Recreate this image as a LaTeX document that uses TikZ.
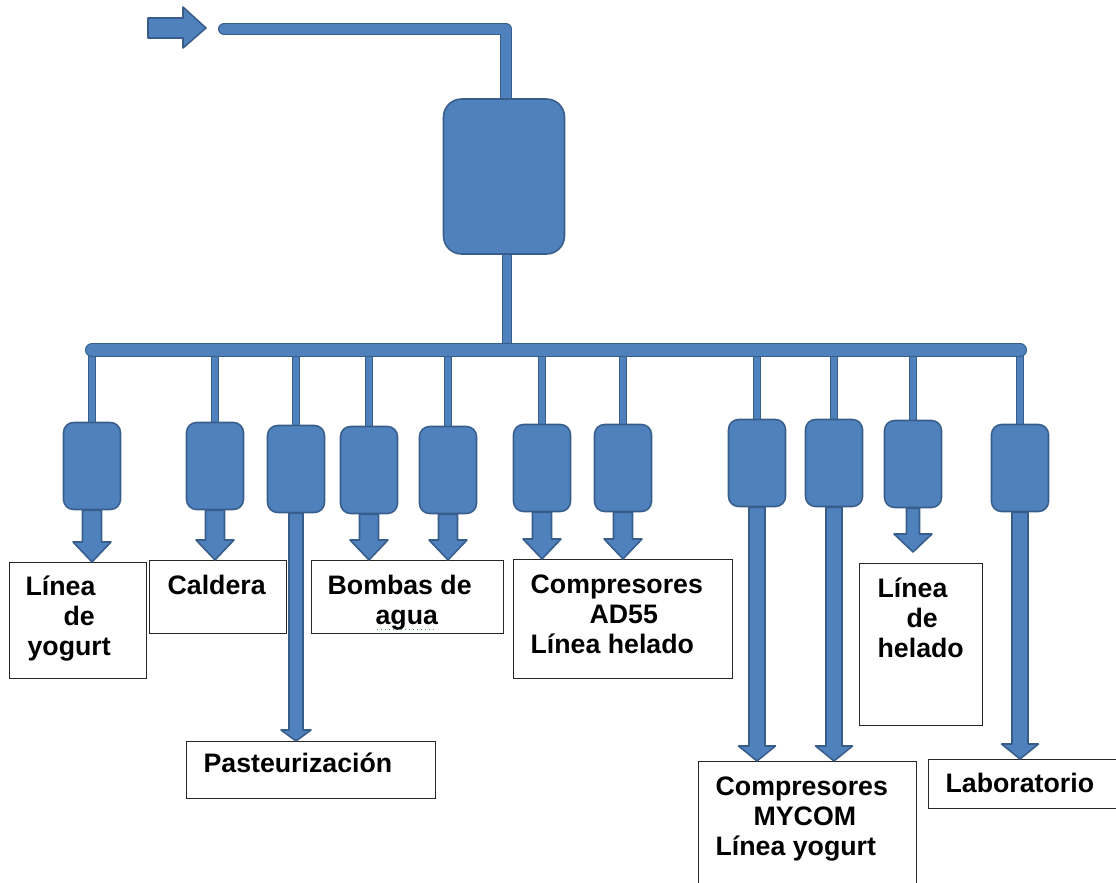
\documentclass[tikz,border=0pt]{standalone}
\usepackage{fontspec}
\setmainfont{Liberation Sans}
\usetikzlibrary{calc,backgrounds}

\definecolor{azul}{RGB}{79,129,189}
\definecolor{borde}{RGB}{56,93,138}
\definecolor{verde}{RGB}{60,160,60}

% un pixel de la figura original
\newlength{\pxl}
\setlength{\pxl}{0.025cm}

% texto pegado arriba dentro del cuadro: ancho, alto, texto
\newcommand{\rotulo}[3]{\parbox[t][#2\pxl][t]{#1\pxl}{#3}}

% subrayado punteado verde (corrector)
\newcommand{\punteado}[1]{\rlap{\raisebox{-6\pxl}{\color{verde}\leaders\hbox to 4\pxl{\hss\rule{1.6\pxl}{1.6\pxl}\hss}\hskip #1\pxl}}}

% flecha de bloque: origen, destino, ancho cuerpo, ancho punta, largo punta
\newcommand{\flecha}[5]{%
  \filldraw[bloque] let \p1=(#1), \p2=(#2) in
    (\x1-#3*\pxl/2,\y1) -- (\x1-#3*\pxl/2,\y2+#5*\pxl) -- (\x1-#4*\pxl/2,\y2+#5*\pxl)
    -- (\x1,\y2) -- (\x1+#4*\pxl/2,\y2+#5*\pxl) -- (\x1+#3*\pxl/2,\y2+#5*\pxl)
    -- (\x1+#3*\pxl/2,\y1) -- cycle;}

\begin{document}
\begin{tikzpicture}[x=0.025cm,y=-0.025cm,
  tanque/.style={rectangle,rounded corners=0.25cm,fill=azul,draw=borde,line width=1.1pt,
    minimum width=57*\pxl,minimum height=87*\pxl,inner sep=0pt},
  caja/.style={draw=black!85,line width=0.9pt,inner sep=0pt,anchor=north west,
    font=\bfseries\fontsize{19pt}{21.5pt}\selectfont},
  bloque/.style={fill=azul,draw=borde,line width=1.1pt,line join=round},
  tubo/.style={draw=borde,double=azul,line width=0.8pt,double distance=6.9pt,line join=round},
  ramal/.style={tubo,double distance=4.1pt},
  bajante/.style={tubo,double distance=5.5pt},
  colector/.style={tubo,double distance=8.4pt,line cap=round}]
  \useasboundingbox (0,0) rectangle (1116,882);

  % Flecha de entrada
  \filldraw[bloque] (148,18) -- (183,18) -- (183,7) -- (206,28) -- (183,48) -- (183,38) -- (148,38) -- cycle;

  % Tanque principal
  \node[tanque,rounded corners=0.45cm,minimum width=121*\pxl,minimum height=155*\pxl] (tk) at (504,176.5) {};
  \coordinate (entrada) at (224,29);
  \coordinate (colec) at (507,350);

  % Tanques de cada servicio
  \foreach \n/\x/\y in {1/92/466, 2/215/466, 3/296/469, 4/369/470, 5/448/470, 6/542/468,
                        7/623/468, 8/757/463, 9/834/463, 10/913/464, 11/1020/468}
    \node[tanque] (t\n) at (\x,\y) {};

  % Tuberias (detras de los tanques)
  \begin{scope}[on background layer]
    \draw[tubo,line cap=round] (entrada) -| ([xshift=0.05cm]tk.north);
    \foreach \n in {1,...,11}
      \draw[ramal] (t\n.north |- colec) -- (t\n.north);
    \draw[bajante] (colec |- tk.south) -- (colec);
    \draw[colector] (t1.north |- colec) -- (t11.north |- colec);
  \end{scope}

  % Cuadros de destino
  \node[caja] (b1) at (9,562) {\rotulo{137}{116}{\vspace*{13\pxl}\hspace*{16\pxl}Línea\\\hspace*{54\pxl}de\\\hspace*{18\pxl}yogurt}};
  \node[caja] (b2) at (149,560) {\rotulo{137}{73}{\vspace*{14\pxl}\hspace*{18\pxl}Caldera}};
  \node[caja] (b3) at (186,741) {\rotulo{249}{57}{\vspace*{11\pxl}\hspace*{17\pxl}Pasteurización}};
  \node[caja] (b4) at (311,560) {\rotulo{192}{73}{\vspace*{14\pxl}\hspace*{16\pxl}Bombas de\\\hspace*{64\pxl}\punteado{62}agua}};
  \node[caja] (b5) at (513,559) {\rotulo{219}{119}{\vspace*{15\pxl}\hspace*{17\pxl}Compresores\\\hspace*{76\pxl}AD55\\\hspace*{17\pxl}Línea helado}};
  \node[caja] (b6) at (859,563) {\rotulo{123}{162}{\vspace*{14\pxl}\hspace*{18\pxl}Línea\\\hspace*{47\pxl}de\\\hspace*{18\pxl}helado}};
  \node[caja] (b7) at (698,761) {\rotulo{218}{140}{\vspace*{15\pxl}\hspace*{17\pxl}Compresores\\\hspace*{55\pxl}MYCOM\\\hspace*{17\pxl}Línea yogurt}};
  \node[caja] (b8) at (928,759) {\rotulo{200}{49}{\vspace*{13\pxl}\hspace*{17\pxl}Laboratorio}};

  % Flechas cortas
  \foreach \tq/\cj in {t1/b1, t2/b2, t4/b4, t5/b4, t6/b5, t7/b5}
    \flecha{\tq.south}{\cj.north}{19}{38}{20};
  \flecha{t10.south}{[yshift=0.275cm]b6.north}{13}{38}{18}

  % Flechas largas
  \flecha{t3.south}{b3.north}{14}{30}{11}
  \foreach \tq in {t8,t9}
    \flecha{\tq.south}{b7.north}{16}{37}{15};
  \flecha{t11.south}{b8.north}{16}{37}{15}
\end{tikzpicture}
\end{document}
